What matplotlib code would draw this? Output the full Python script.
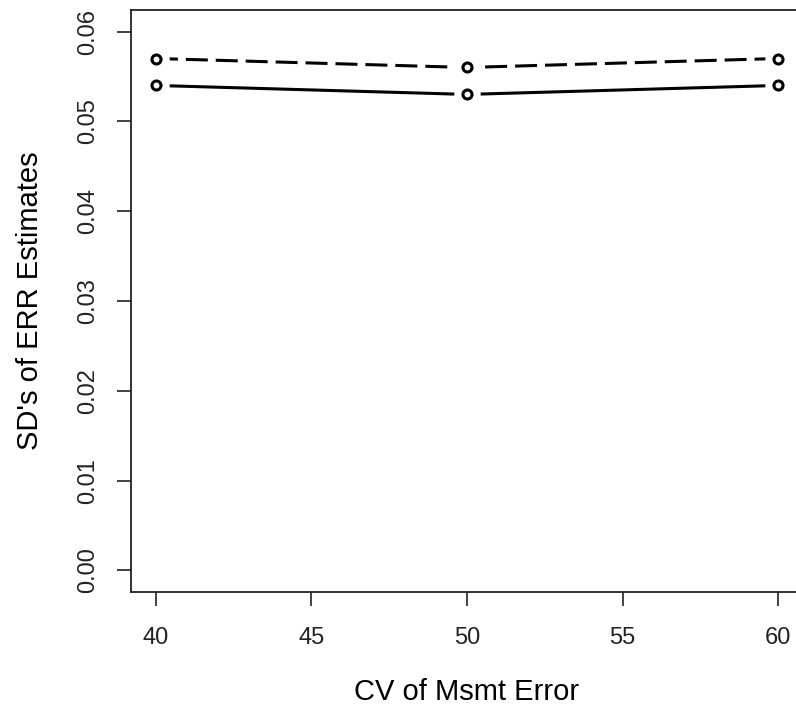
import numpy as np
import matplotlib
matplotlib.use("Agg")
import matplotlib.pyplot as plt

# CV of measurement error (%) and SD's of the ERR estimates
cv = [40, 50, 60]
sd_solid = [0.054, 0.053, 0.054]
sd_dashed = [0.057, 0.056, 0.057]
yticks = [0.00, 0.01, 0.02, 0.03, 0.04, 0.05, 0.06]
xticks = [40, 45, 50, 55, 60]

plt.rcParams['font.family'] = ['Liberation Sans', 'DejaVu Sans']

fig = plt.figure(figsize=(7.96, 7.08), dpi=100)
ax = fig.add_axes([131 / 796, 116 / 708, 672 / 796, 582 / 708])

lw = 2.2
for ys, style in [(sd_solid, {'linestyle': '-'}), (sd_dashed, {'dashes': (7.2, 2.6)})]:
    ax.plot(cv, ys, color='black', lw=lw, solid_capstyle='butt',
            dash_capstyle='butt', zorder=2, **style)
    # white disks break the line around each point (R type="b")
    ax.plot(cv, ys, linestyle='none', marker='o', ms=19, mfc='white',
            mec='none', zorder=3)
    ax.plot(cv, ys, linestyle='none', marker='o', ms=6.5, mfc='white',
            mec='black', mew=2.2, zorder=4)

ax.set_xlim(39.2, 60.8)
ax.set_ylim(-0.0024, 0.0624)
ax.set_xticks(xticks)
ax.set_yticks(yticks)
ax.set_xticklabels([str(x) for x in xticks], fontsize=17, color='#222222')
ax.set_yticklabels(['%.2f' % y for y in yticks], fontsize=17, rotation=90,
                   va='center', color='#222222')
ax.tick_params(axis='both', length=10, width=1.3, color='#333333')
ax.tick_params(axis='x', pad=15)
ax.tick_params(axis='y', pad=13)
for sp in ax.spines.values():
    sp.set_linewidth(1.3)
    sp.set_color('#222222')

ax.set_xlabel('CV of Msmt Error', fontsize=21, labelpad=21)
ax.set_ylabel("SD's of ERR Estimates", fontsize=21, labelpad=24)

fig.savefig('out.png', dpi=100)
